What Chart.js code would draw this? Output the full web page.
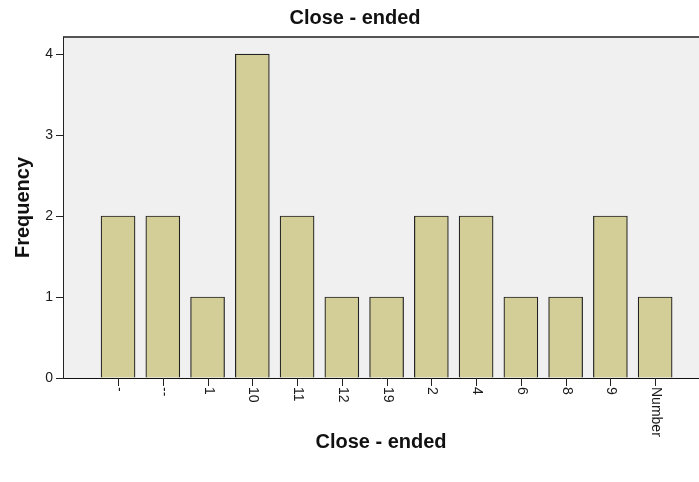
<!DOCTYPE html>
<html>
<head>
<meta charset="utf-8">
<script src="https://cdn.jsdelivr.net/npm/chart.js@4"></script>
<style>
  html, body { margin: 0; padding: 0; background: #fff; }
  #wrap { width: 699px; height: 482px; }
</style>
</head>
<body>
<div id="wrap"><canvas id="chart" width="699" height="482"></canvas></div>
<script>
const categories = ['-', '--', '1', '10', '11', '12', '19', '2', '4', '6', '8', '9', 'Number'];
const frequencies = [2, 2, 1, 4, 2, 1, 1, 2, 2, 1, 1, 2, 1];
const yTicks = [0, 1, 2, 3, 4];

const FONT = 'Arial, "Liberation Sans", sans-serif';

// gray plot panel + top frame line
const panel = {
  id: 'panel',
  beforeDraw(chart) {
    const { ctx, chartArea: a } = chart;
    ctx.save();
    ctx.fillStyle = '#f0f0f0';
    ctx.fillRect(a.left, a.top, a.right - a.left, a.bottom - a.top);
    ctx.strokeStyle = '#555';
    ctx.lineWidth = 2;
    ctx.beginPath();
    ctx.moveTo(a.left, a.top);
    ctx.lineTo(a.right, a.top);
    ctx.stroke();
    ctx.restore();
  },
  // category ticks with labels turned 90deg clockwise, like SPSS
  afterDraw(chart) {
    const { ctx } = chart;
    const x = chart.scales.x;
    const y0 = chart.chartArea.bottom;
    ctx.save();
    ctx.strokeStyle = '#222';
    ctx.lineWidth = 1;
    ctx.fillStyle = '#1a1a1a';
    ctx.font = '14px ' + FONT;
    ctx.textAlign = 'left';
    ctx.textBaseline = 'middle';
    categories.forEach((c, i) => {
      const px = Math.round(x.getPixelForValue(i)) + 0.5;
      ctx.beginPath();
      ctx.moveTo(px, y0);
      ctx.lineTo(px, y0 + 8);
      ctx.stroke();
      ctx.save();
      ctx.translate(px, y0 + 9);
      ctx.rotate(Math.PI / 2);
      ctx.fillText(c, 0, 0);
      ctx.restore();
    });
    ctx.restore();
  }
};

new Chart(document.getElementById('chart'), {
  type: 'bar',
  data: {
    datasets: [{
      label: 'Frequency',
      data: categories.map((c, i) => ({ x: i, y: frequencies[i] })),
      backgroundColor: '#d3ce97',
      borderColor: '#222',
      borderWidth: 1.2,
      barThickness: 34
    }]
  },
  options: {
    responsive: false,
    animation: false,
    layout: { padding: { left: 11, right: 0, top: 0, bottom: 28 } },
    scales: {
      x: {
        type: 'linear',
        offset: false,
        min: -1.23,
        max: 12.98,
        grid: { display: false, offset: false },
        ticks: { display: false },
        border: { display: true, color: '#111', width: 1 },
        title: {
          display: true,
          text: 'Close - ended',
          color: '#111',
          font: { family: FONT, size: 20, weight: 'bold' },
          padding: 0
        },
        afterFit(scale) { scale.height = 76; }
      },
      y: {
        min: 0,
        max: 4.21,
        afterBuildTicks(scale) { scale.ticks = yTicks.map(v => ({ value: v })); },
        ticks: {
          color: '#1a1a1a',
          padding: 3,
          font: { family: FONT, size: 14 }
        },
        grid: { drawOnChartArea: false, tickLength: 7, color: '#222' },
        border: { display: true, color: '#222', width: 1 },
        title: {
          display: true,
          text: 'Frequency',
          color: '#111',
          font: { family: FONT, size: 20, weight: 'bold' },
          padding: 0
        },
        afterFit(scale) { scale.width = 52; }
      }
    },
    plugins: {
      legend: { display: false },
      tooltip: { enabled: false },
      title: {
        display: true,
        text: 'Close - ended',
        color: '#111',
        font: { family: FONT, size: 20, weight: 'bold' },
        padding: { top: 6, bottom: 7 }
      }
    }
  },
  plugins: [panel]
});
</script>
</body>
</html>
